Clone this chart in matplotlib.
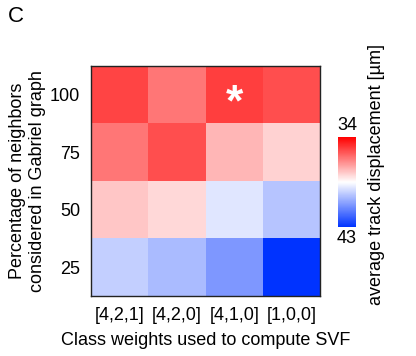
import matplotlib
matplotlib.use("Agg")
import matplotlib.pyplot as plt
import numpy as np
from matplotlib.colors import LinearSegmentedColormap

plt.rcParams["font.family"] = ["Liberation Sans", "DejaVu Sans"]

class_weights = ["[4,2,1]", "[4,2,0]", "[4,1,0]", "[1,0,0]"]
neighbor_pct = ["100", "75", "50", "25"]

# average track displacement [µm], rows = neighbor_pct (top to bottom)
row_100 = [35.2, 36.1, 35.1, 35.4]
row_75 = [36.1, 35.4, 37.2, 37.7]
row_50 = [37.5, 37.8, 39.05, 39.8]
row_25 = [39.55, 40.0, 40.75, 43.0]

best_cell = (0, 2)  # marked with asterisk
vmin, vmax = 34, 43

values = np.array([row_100, row_75, row_50, row_25])

cmap = LinearSegmentedColormap.from_list("rwb", ["#ff0000", "#ffffff", "#0033ff"])

fig = plt.figure(figsize=(4.16, 3.56), dpi=100)
ax = fig.add_axes([0.219, 0.1685, 0.551, 0.646])
im = ax.imshow(values, cmap=cmap, vmin=vmin, vmax=vmax, aspect="auto")

ax.set_xticks(range(len(class_weights)))
ax.set_xticklabels(class_weights)
ax.set_yticks(range(len(neighbor_pct)))
ax.set_yticklabels(neighbor_pct)
ax.tick_params(length=0, labelsize=13, pad=8)
ax.set_xlabel("Class weights used to compute SVF", fontsize=13, labelpad=6)
ax.set_ylabel("Percentage of neighbors\nconsidered in Gabriel graph", fontsize=13, labelpad=3)
for s in ax.spines.values():
    s.set_color("#222222")
    s.set_linewidth(1.0)

# asterisk glyph sits high in its box, nudge it down to the cell centre
ax.text(best_cell[1], best_cell[0] + 0.15, "*", color="white", fontsize=32, fontweight="bold",
        ha="center", va="center")

# colorbar, 34 on top (red), 43 at bottom (blue)
cax = fig.add_axes([0.8125, 0.362, 0.043, 0.253])
cb = fig.colorbar(im, cax=cax)
cb.outline.set_visible(False)
cb.set_ticks([])
cax.invert_yaxis()
cax.text(0.5, 1.03, str(vmin), transform=cax.transAxes, ha="center", va="bottom", fontsize=13)
cax.text(0.5, -0.03, str(vmax), transform=cax.transAxes, ha="center", va="top", fontsize=13)

fig.text(0.906, 0.51, "average track displacement [µm]", rotation=90,
         ha="center", va="center", fontsize=13)

fig.text(0.02, 0.955, "C", fontsize=16, ha="left", va="center")

fig.savefig("out.png", dpi=100)
